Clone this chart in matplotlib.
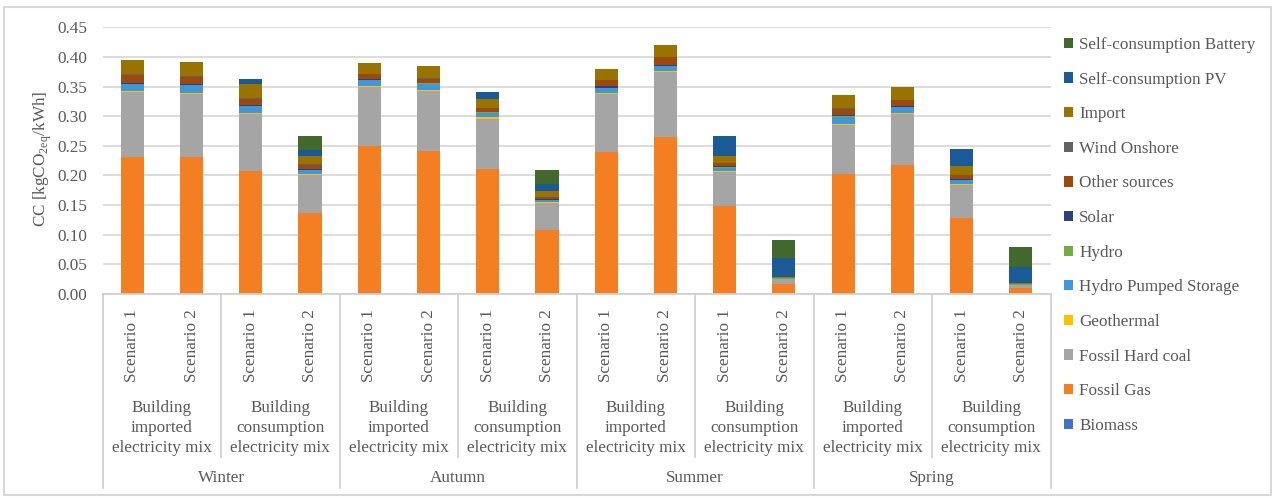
import numpy as np
import matplotlib.pyplot as plt
import matplotlib.transforms as mtransforms
from matplotlib.lines import Line2D
from matplotlib.patches import Rectangle

plt.rcParams['font.family'] = ['Liberation Serif', 'DejaVu Serif']
plt.rcParams['mathtext.fontset'] = 'custom'
plt.rcParams['mathtext.rm'] = 'Liberation Serif'

# --- data (kgCO2eq/kWh), one value per bar ---
seasons = ["Winter", "Autumn", "Summer", "Spring"]
mixes = ["Building\nimported\nelectricity mix", "Building\nconsumption\nelectricity mix"]
scenarios = ["Scenario 1", "Scenario 2"]

biomass = [0.002, 0.002, 0, 0, 0.002, 0.002, 0, 0, 0, 0.002, 0, 0, 0.002, 0.002, 0, 0]
fossil_gas = [0.230, 0.229, 0.207, 0.137, 0.247, 0.239, 0.211, 0.108,
              0.240, 0.263, 0.148, 0.017, 0.201, 0.215, 0.128, 0.010]
hard_coal = [0.109, 0.106, 0.096, 0.063, 0.100, 0.101, 0.085, 0.045,
             0.097, 0.110, 0.058, 0.008, 0.082, 0.086, 0.056, 0.005]
geothermal = [0.002, 0.002, 0.002, 0.002, 0.002, 0.002, 0.002, 0.002,
              0.002, 0.002, 0.001, 0.0005, 0.002, 0.002, 0.001, 0.0005]
hydro_ps = [0.011, 0.013, 0.012, 0.007, 0.010, 0.011, 0.008, 0.003,
            0.008, 0.007, 0.006, 0.0005, 0.012, 0.010, 0.007, 0.0005]
hydro = [0.0005, 0.0005, 0.0005, 0.0005, 0.0005, 0.0005, 0.0005, 0.0005,
         0.0005, 0.0005, 0.0005, 0.0002, 0.0005, 0.0005, 0.0005, 0.0002]
solar = [0.001, 0.001, 0.001, 0.001, 0.001, 0.001, 0.001, 0.001,
         0.003, 0.002, 0.002, 0.0003, 0.002, 0.002, 0.002, 0.0003]
other = [0.0147, 0.013, 0.011, 0.008, 0.008, 0.007, 0.006, 0.004,
         0.010, 0.013, 0.005, 0.0005, 0.011, 0.009, 0.006, 0.0005]
wind = [0.0005, 0.0005, 0.0005, 0.0005, 0.0005, 0.0005, 0.0005, 0.0005,
        0.0005, 0.0005, 0.0005, 0.0003, 0.0005, 0.0005, 0.0005, 0.0003]
imports = [0.0248, 0.025, 0.0235, 0.014, 0.0185, 0.020, 0.0147, 0.0095,
           0.019, 0.0195, 0.0125, 0.001, 0.0225, 0.0225, 0.0152, 0.001]
self_pv = [0, 0, 0.0098, 0.0095, 0, 0, 0.0123, 0.012, 0, 0, 0.0325, 0.0327, 0, 0, 0.028, 0.028]
self_batt = [0, 0, 0, 0.024, 0, 0, 0, 0.0236, 0, 0, 0, 0.0298, 0, 0, 0, 0.0337]

series = [
    ("Biomass", biomass, "#4472C4"),
    ("Fossil Gas", fossil_gas, "#F47E22"),
    ("Fossil Hard coal", hard_coal, "#A5A5A5"),
    ("Geothermal", geothermal, "#FFC000"),
    ("Hydro Pumped Storage", hydro_ps, "#4096DA"),
    ("Hydro", hydro, "#70AD47"),
    ("Solar", solar, "#264478"),
    ("Other sources", other, "#9E480E"),
    ("Wind Onshore", wind, "#636363"),
    ("Import", imports, "#997300"),
    ("Self-consumption PV", self_pv, "#1A5A96"),
    ("Self-consumption Battery", self_batt, "#43682B"),
]

W, H = 1275, 498
fig = plt.figure(figsize=(W / 100, H / 100), dpi=100)
ax = fig.add_axes([102.7 / W, 1 - 294 / H, (1050.5 - 102.7) / W, (294 - 27.3) / H])

txt = '#595959'
fs = 12.3
n = len(biomass)
x = np.arange(n)
bottom = np.zeros(n)
handles = []
for name, vals, col in series:
    v = np.array(vals)
    b = ax.bar(x, v, 0.39, bottom=bottom, color=col, label=name, zorder=3)
    bottom += v
    handles.append(b)

ax.set_xlim(-0.5, n - 0.5)
ax.set_ylim(0, 0.45)
ax.set_yticks(np.arange(0, 0.451, 0.05))
ax.set_yticklabels([f"{t:.2f}" for t in np.arange(0, 0.451, 0.05)])
ax.tick_params(axis='y', length=0, pad=11, labelsize=fs, labelcolor=txt)
ax.set_xticks([])
ax.grid(axis='y', color='#d9d9d9', linewidth=1.3, zorder=0)
for s in ['top', 'right', 'left']:
    ax.spines[s].set_visible(False)
ax.spines['bottom'].set_color('#d0d0d0')
ax.spines['bottom'].set_linewidth(1.3)
ax.spines['bottom'].set_zorder(4)

fig.text(43 / W, 1 - 159 / H, r'CC [kgCO$_{\mathrm{2eq}}$/kWh]', rotation=90,
         ha='center', va='center', fontsize=fs, color=txt)

# multi-level category axis
tr = mtransforms.blended_transform_factory(ax.transData, fig.transFigure)
def fy(py):
    return 1 - py / H

for i in range(n):
    ax.text(i, fy(346), scenarios[i % 2], rotation=90, ha='center', va='center',
            fontsize=fs, color=txt, transform=tr)
for g in range(n // 2):
    ax.text(2 * g + 0.5, fy(428), mixes[g % 2], ha='center', va='center',
            fontsize=fs, color=txt, transform=tr, linespacing=1.3)
for k, s in enumerate(seasons):
    ax.text(4 * k + 1.5, fy(478), s, ha='center', va='center',
            fontsize=fs, color=txt, transform=tr)

for g in range(n // 4):
    xs = 4 * g + 1.5
    ax.add_line(Line2D([xs, xs], [fy(294), fy(457)], transform=tr, color='#d0d0d0',
                       lw=1.3, clip_on=False))
for g in range(n // 4 + 1):
    xs = 4 * g - 0.5
    ax.add_line(Line2D([xs, xs], [fy(294), fy(488)], transform=tr, color='#d0d0d0',
                       lw=1.3, clip_on=False))

# legend, reversed like the stacking
leg = fig.legend(handles[::-1], [s[0] for s in series][::-1], loc='upper left',
                 bbox_to_anchor=(1064 / W, 1 - 37 / H), frameon=False, fontsize=fs,
                 labelcolor=txt, handlelength=0.55, handleheight=0.55,
                 handletextpad=0.35, labelspacing=1.09, borderaxespad=0, borderpad=0)

# chart-area border
fig.patches.append(Rectangle((4 / W, 3 / H), (W - 8) / W, (H - 10) / H,
                             transform=fig.transFigure, fill=False,
                             edgecolor='#d9d9d9', lw=1.5))

fig.savefig('out.png', dpi=100)
